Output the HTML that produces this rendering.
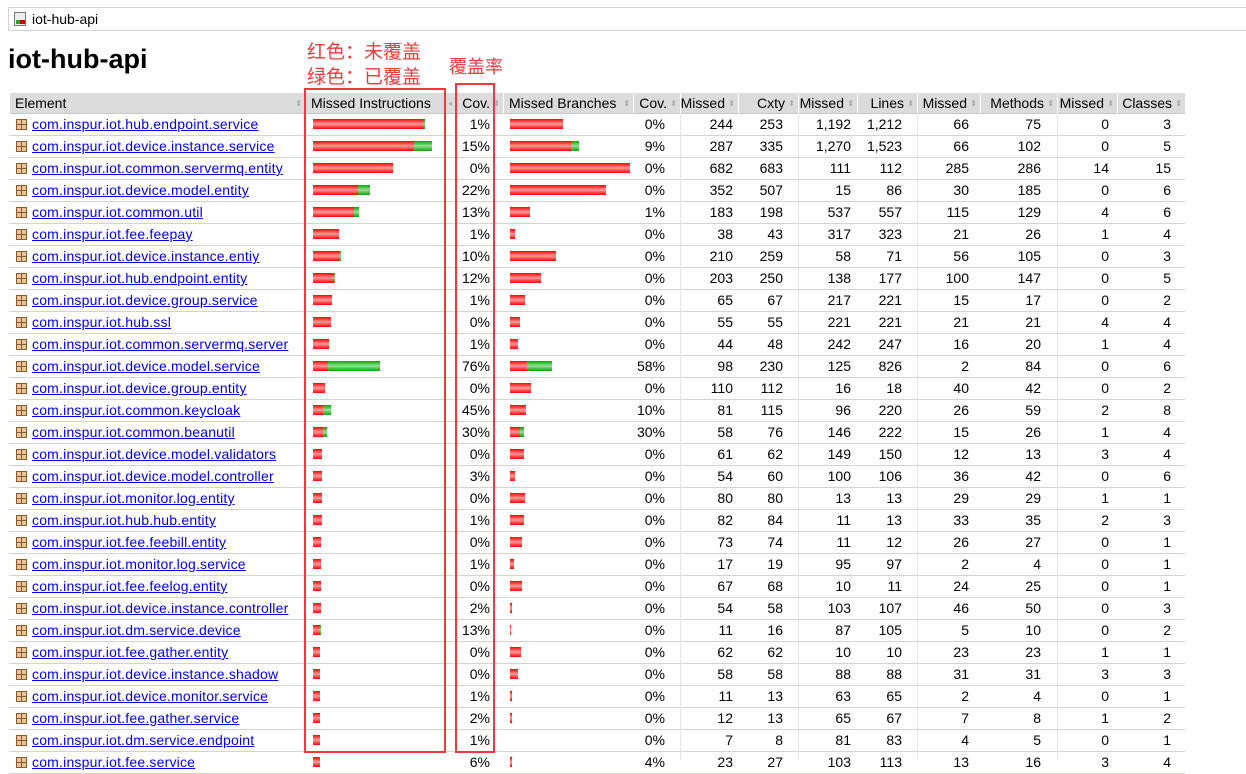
<!DOCTYPE html>
<html><head><meta charset="utf-8">
<style>
*{margin:0;padding:0;box-sizing:border-box}
body{width:1246px;height:760px;overflow:hidden;background:#fff;font-family:"Liberation Sans","DejaVu Sans",sans-serif;font-size:13px;color:#000;position:relative}
.abs{position:absolute;white-space:nowrap}
#crumb{left:8px;top:7px;width:1238px;height:24px;border:1px solid #d6d3ce;border-right:none}
#crumb span{position:absolute;left:23px;top:3px;font-size:14px}
#title{left:8px;top:44px;font-size:27px;font-weight:bold}
.anno{color:#f0393c;font-family:"Liberation Sans","Noto Sans CJK SC",sans-serif;font-size:19px}
.box{position:absolute;border:2px solid #f0393c}
#hdr{position:absolute;left:9px;top:93px;width:1176px;height:21px;background:#dcdcdc;border-bottom:1px solid #c8c8c8}
.hc{position:absolute;top:0;height:21px;line-height:21px;font-size:14px;border-left:1px solid #fff}
.ar{color:#aaa;font-size:8px;margin-left:2px;vertical-align:1px}
.row{position:absolute;left:9px;width:1176px;height:22px;border-bottom:1px solid #d6d3ce}
.cell{position:absolute;top:2px;font-size:14px;white-space:nowrap}
.lnk{color:#00e;text-decoration:underline;letter-spacing:0.2px}
.bar{position:absolute;top:5px;height:10px}
.r{background:linear-gradient(#f00 0,#f99 50%,#f00 100%)}
.g{background:linear-gradient(#0a0 0,#9d9 50%,#0a0 100%)}
.ico{position:absolute;left:7px;top:5px;width:11px;height:11px;border:1px solid #8a5a2b;background:#e8c49a}
.ico:before{content:"";position:absolute;left:4px;top:0;width:1px;height:9px;background:#8a5a2b}
.ico:after{content:"";position:absolute;left:0;top:4px;width:9px;height:1px;background:#8a5a2b}
.vsep{position:absolute;top:114px;width:1px;height:646px;background:#e4e4e4}
</style></head><body>
<div id="crumb" class="abs">
<div style="position:absolute;left:5px;top:4px;width:12px;height:14px;border:1px solid #777;background:#eee"><div style="position:absolute;left:1px;bottom:1px;width:5px;height:4px;background:#2a2"></div><div style="position:absolute;right:0;bottom:1px;width:5px;height:4px;background:#c00"></div></div>
<span>iot-hub-api</span></div>
<div id="title" class="abs">iot-hub-api</div>
<div class="abs anno" style="left:307px;top:37px">红色：未覆盖</div>
<div class="abs anno" style="left:307px;top:62px">绿色：已覆盖</div>
<div class="abs anno" style="left:449px;top:53px;font-size:18px">覆盖率</div>
<div id="hdr"></div>
<div id="rows"></div>
<div class="box" style="left:304px;top:88px;width:142px;height:665px"></div>
<div class="box" style="left:455px;top:83px;width:40px;height:670px"></div>
<script>
const names=["com.inspur.iot.hub.endpoint.service","com.inspur.iot.device.instance.service","com.inspur.iot.common.servermq.entity","com.inspur.iot.device.model.entity","com.inspur.iot.common.util","com.inspur.iot.fee.feepay","com.inspur.iot.device.instance.entiy","com.inspur.iot.hub.endpoint.entity","com.inspur.iot.device.group.service","com.inspur.iot.hub.ssl","com.inspur.iot.common.servermq.server","com.inspur.iot.device.model.service","com.inspur.iot.device.group.entity","com.inspur.iot.common.keycloak","com.inspur.iot.common.beanutil","com.inspur.iot.device.model.validators","com.inspur.iot.device.model.controller","com.inspur.iot.monitor.log.entity","com.inspur.iot.hub.hub.entity","com.inspur.iot.fee.feebill.entity","com.inspur.iot.monitor.log.service","com.inspur.iot.fee.feelog.entity","com.inspur.iot.device.instance.controller","com.inspur.iot.dm.service.device","com.inspur.iot.fee.gather.entity","com.inspur.iot.device.instance.shadow","com.inspur.iot.device.monitor.service","com.inspur.iot.fee.gather.service","com.inspur.iot.dm.service.endpoint","com.inspur.iot.fee.service"];
const instrMissed=[111,101,80,45,41,26,26,21,19,18,16,15,12,10,10,9,9,9,9,8,8,8,8,7,7,7,7,7,7,7];
const instrCovered=[1,18,0,12,5,0,2,1,0,0,0,52,0,8,4,0,0,0,0,0,0,0,0,1,0,0,0,0,0,0];
const instrCov=["1%","15%","0%","22%","13%","1%","10%","12%","1%","0%","1%","76%","0%","45%","30%","0%","3%","0%","1%","0%","1%","0%","2%","13%","0%","0%","1%","2%","1%","6%"];
const brMissed=[53,61,120,96,20,5,46,31,15,10,8,17,21,16,10,14,5,15,14,12,4,12,2,1,11,8,2,2,0,2];
const brCovered=[0,8,0,0,0,0,0,0,0,0,0,25,0,0,4,0,0,0,0,0,0,0,0,0,0,0,0,0,0,0];
const brCov=["0%","9%","0%","0%","1%","0%","0%","0%","0%","0%","0%","58%","0%","10%","30%","0%","0%","0%","0%","0%","0%","0%","0%","0%","0%","0%","0%","0%","0%","4%"];
const cxMissed=[244,287,682,352,183,38,210,203,65,55,44,98,110,81,58,61,54,80,82,73,17,67,54,11,62,58,11,12,7,23];
const cxty=[253,335,683,507,198,43,259,250,67,55,48,230,112,115,76,62,60,80,84,74,19,68,58,16,62,58,13,13,8,27];
const lnMissed=["1,192","1,270",111,15,537,317,58,138,217,221,242,125,16,96,146,149,100,13,11,11,95,10,103,87,10,88,63,65,81,103];
const lines=["1,212","1,523",112,86,557,323,71,177,221,221,247,826,18,220,222,150,106,13,13,12,97,11,107,105,10,88,65,67,83,113];
const mtMissed=[66,66,285,30,115,21,56,100,15,21,16,2,40,26,15,12,36,29,33,26,2,24,46,5,23,31,2,7,4,13];
const methods=[75,102,286,185,129,26,105,147,17,21,20,84,42,59,26,13,42,29,35,27,4,25,50,10,23,31,4,8,5,16];
const clMissed=[0,0,14,0,4,1,0,0,0,4,1,0,0,2,1,3,0,1,2,0,0,0,0,0,1,3,0,1,0,3];
const classes=[3,5,15,6,6,4,3,5,2,4,4,6,2,8,4,4,6,1,3,1,1,1,3,2,1,3,1,2,1,4];
const headers=[["Element",9,305],["Missed Instructions",305,455],["Cov.",455,503],["Missed Branches",503,633],["Cov.",633,680],["Missed",680,738],["Cxty",738,798],["Missed",798,857],["Lines",857,917],["Missed",917,980],["Methods",980,1057],["Missed",1057,1117],["Classes",1117,1185]];
const hdr=document.getElementById('hdr');
headers.forEach((h,i)=>{const d=document.createElement('div');d.className='hc';


d.style.left=(h[1]-9)+'px';d.style.width=(h[2]-h[1])+'px';
d.innerHTML='<span style="position:absolute;left:'+(i<2||i==3?5:4)+'px">'+h[0]+'</span><span class="ar" style="position:absolute;right:3px">'+(i==1?'◂':'⬍')+'</span>';
if(i>1&&i!=3){d.innerHTML='<span style="position:absolute;right:13px">'+h[0]+'</span><span class="ar" style="position:absolute;right:3px">⬍</span>';}
hdr.appendChild(d);});
[680,798,917,1057].forEach(x=>{const v=document.createElement('div');v.className='vsep';v.style.left=x+'px';


document.body.appendChild(v);});
const rows=document.getElementById('rows');
const rights=[490,665,733,783,851,902,969,1041,1109,1171];
names.forEach((n,i)=>{const r=document.createElement('div');r.className='row';r.style.top=(114+i*22)+'px';


let h='<div class="ico"></div><span class="cell lnk" style="left:23px">'+n+'</span>';
h+='<div class="bar r" style="left:304px;width:'+instrMissed[i]+'px"></div>';
if(instrCovered[i])h+='<div class="bar g" style="left:'+(304+instrMissed[i])+'px;width:'+instrCovered[i]+'px"></div>';
if(brMissed[i])h+='<div class="bar r" style="left:501px;width:'+brMissed[i]+'px"></div>';
if(brCovered[i])h+='<div class="bar g" style="left:'+(501+brMissed[i])+'px;width:'+brCovered[i]+'px"></div>';
const vals=[instrCov[i],brCov[i],cxMissed[i],cxty[i],lnMissed[i],lines[i],mtMissed[i],methods[i],clMissed[i],classes[i]];
vals.forEach((v,j)=>{h+='<span class="cell" style="right:'+(1185-rights[j])+'px">'+v+'</span>';});
r.innerHTML=h;rows.appendChild(r);
r.querySelector('.lnk');
r.querySelector('.lnk');
});
</script>
</body></html>
